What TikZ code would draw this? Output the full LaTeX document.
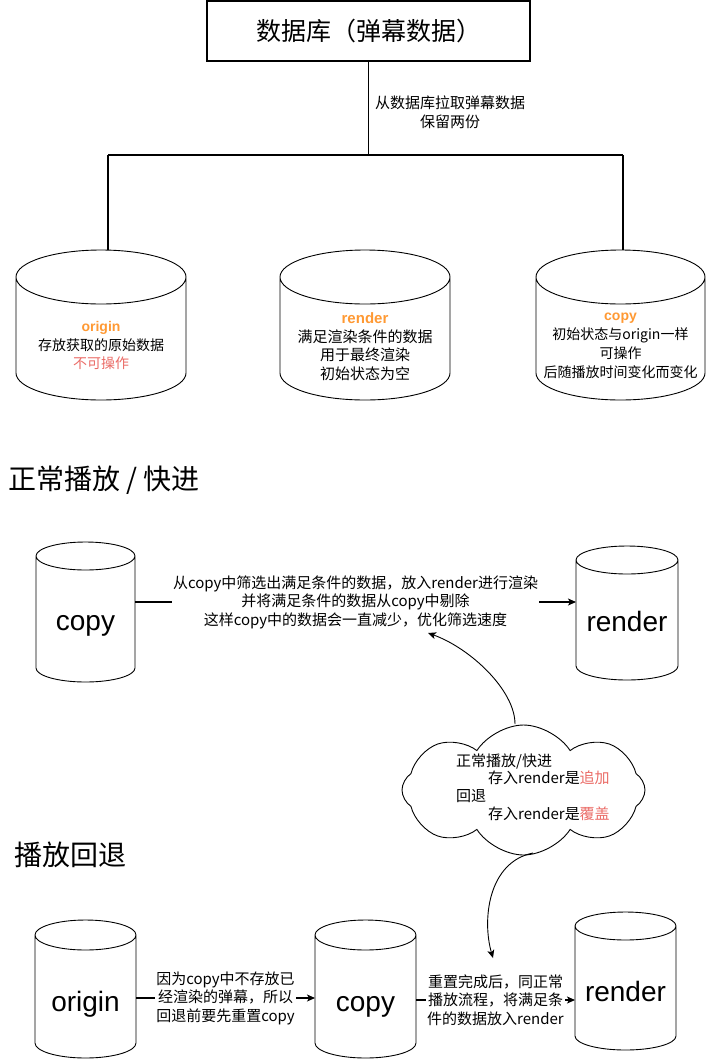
\documentclass[tikz,border=0pt]{standalone}
\usepackage{fontspec}
\setmainfont{Noto Sans CJK SC}
\newfontfamily\lat{Liberation Sans}
\usetikzlibrary{calc,shapes.symbols,arrows.meta}
\definecolor{orng}{HTML}{FF9933}
\definecolor{redt}{HTML}{EA6B66}
\newcommand\cylpath[2]{%
 \draw[cylline] let \p1=(#1.north west), \p2=(#1.south east), \n1={(\x2-\x1)/2} in
 (\x1,\y1-#2) -- (\x1,\y2+#2)
 arc[start angle=180, end angle=360, x radius=\n1, y radius=#2]
 -- (\x2,\y1-#2)
 arc[start angle=0, end angle=180, x radius=\n1, y radius=#2]
 arc[start angle=180, end angle=360, x radius=\n1, y radius=#2];}
\begin{document}
\begin{tikzpicture}[x=1pt,y=-1pt,
 conn/.style={line width=1.1pt},
 arr/.style={-{Stealth[length=8pt,width=7pt,inset=2pt]}},
 cylframe/.style={inner sep=0pt, outer sep=0pt, draw=none},
 cylline/.style={line width=0.9pt},
 lbl/.style={align=center, inner sep=1pt, font=\fontsize{15}{18.5}\selectfont},
 big/.style={font=\lat\fontsize{28}{30}\selectfont, anchor=base, inner sep=0pt},
 ttl/.style={font=\fontsize{28}{32}\selectfont, anchor=west, inner sep=0pt},
]
\useasboundingbox (0,0) rectangle (706,1061);

% top database box
\node[draw, line width=1.1pt, minimum width=323pt, minimum height=60pt, font=\fontsize{25}{28}\selectfont] (db) at (368.5,31) {数据库（弹幕数据）};
\node[lbl] (pull) at (450,112) {从数据库拉取弹幕数据\\保留两份};

% top cylinders
\node[cylframe, minimum width=170pt, minimum height=150pt] (t1) at (101,325) {};
\node[cylframe, minimum width=170pt, minimum height=150pt] (t2) at (365,325) {};
\node[cylframe, minimum width=169pt, minimum height=150pt] (t3) at (620.5,325) {};
\cylpath{t1}{27pt}
\cylpath{t2}{27pt}
\cylpath{t3}{27pt}
\node[lbl, font=\fontsize{14}{18.5}\selectfont] (t1txt) at (101,345.5) {{\lat\bfseries\color{orng}origin}\\存放获取的原始数据\\{\color{redt}不可操作}};
\node[lbl] (t2txt) at (365,346.5) {{\lat\bfseries\color{orng}render}\\满足渲染条件的数据\\用于最终渲染\\初始状态为空};
\node[lbl, font=\fontsize{14}{19}\selectfont] (t3txt) at (620.5,345.5) {{\lat\bfseries\color{orng}copy}\\初始状态与origin一样\\可操作\\后随播放时间变化而变化};

% tree connectors
\coordinate (split) at (368.5,155);
\coordinate (jl) at (108,155);
\coordinate (jr) at (623,155);
\draw[conn] (db.south) -- (split);
\draw[conn] (jl) -- (jr);
\draw[conn] (jl) -- (jl |- t1.north);
\draw[conn] (jr) -- (jr |- t3.north);

% section 1
\node[ttl] (sec1) at (8,480) {正常播放 / 快进};
\node[cylframe, minimum width=99pt, minimum height=140pt] (m1) at (85.5,612) {};
\node[cylframe, minimum width=102pt, minimum height=134pt] (m2) at (627,613) {};
\cylpath{m1}{14pt}
\cylpath{m2}{14pt}
\node[big] (m1txt) at (85.5,630) {copy};
\node[big] (m2txt) at (627,631) {render};
\draw[conn,arr] ([yshift=10pt]m1.east) -- ([yshift=10pt]m1.east -| m2.west)
 node[midway, lbl, fill=white] (flow) {从copy中筛选出满足条件的数据，放入render进行渲染\\并将满足条件的数据从copy中剔除\\这样copy中的数据会一直减少，优化筛选速度};

% cloud
\node[cloud, draw, line width=0.9pt, cloud puffs=8, cloud puff arc=115, aspect=1.87, minimum width=243pt, minimum height=130pt, inner sep=0pt, shape border rotate=10] (cl) at (523.5,790) {};
\node[lbl, align=left, anchor=west, font=\fontsize{15}{17.8}\selectfont] (cltxt) at (455,787) {正常播放/快进\\\hspace*{32pt}存入render是{\color{redt}追加}\\回退\\\hspace*{32pt}存入render是{\color{redt}覆盖}};
\coordinate (c1s) at (515,724);
\coordinate (c1e) at (428,633);
\draw[line width=0.9pt, arr] (c1s) .. controls (515,690) and (470,648) .. (c1e);
\coordinate (c2s) at (533,853);
\coordinate (c2e) at (493,958);
\draw[line width=0.9pt, arr] (c2s) .. controls (488,862) and (482,920) .. (c2e);

% section 2
\node[ttl] (sec2) at (14,855) {播放回退};
\node[cylframe, minimum width=101pt, minimum height=138pt] (b1) at (85.5,989) {};
\node[cylframe, minimum width=101pt, minimum height=138pt] (b2) at (365.5,989) {};
\node[cylframe, minimum width=101pt, minimum height=138pt] (b3) at (625.5,981) {};
\cylpath{b1}{15pt}
\cylpath{b2}{15pt}
\cylpath{b3}{14pt}
\node[big] (b1txt) at (85.5,1011) {origin};
\node[big] (b2txt) at (365.5,1011) {copy};
\node[big] (b3txt) at (625.5,1001) {render};
\draw[conn,arr] ([yshift=-9pt]b1.east) -- ([yshift=-9pt]b1.east -| b2.west)
 node[midway, lbl, fill=white] (reset) {因为copy中不存放已\\经渲染的弹幕，所以\\回退前要先重置copy};
\draw[conn,arr] ([yshift=-11pt]b2.east) -- ([yshift=-11pt]b2.east -| b3.west)
 node[midway, lbl, fill=white] (after) {重置完成后，同正常\\播放流程，将满足条\\件的数据放入render};
\end{tikzpicture}
\end{document}
